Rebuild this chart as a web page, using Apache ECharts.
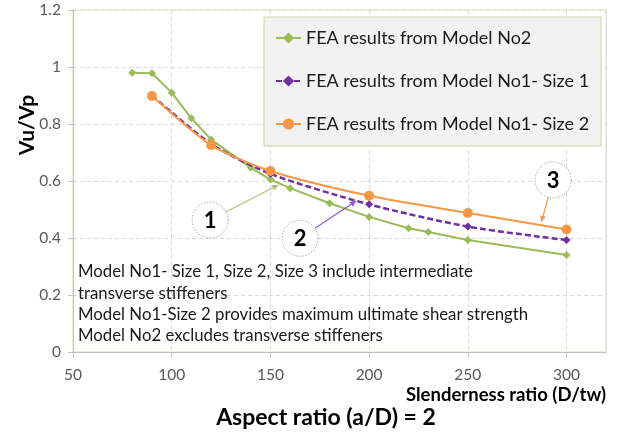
<!DOCTYPE html>
<html><head><meta charset="utf-8">
<script src="https://cdn.jsdelivr.net/npm/echarts@6/dist/echarts.min.js"></script>
<style>html,body{margin:0;padding:0;background:#fff}#chart{width:618px;height:433px}</style>
</head><body><div id="chart"></div>
<script>
// Slenderness ratio (D/tw) vs normalised shear capacity Vu/Vp
const slenderNo2 = [80, 90, 100, 110, 120, 140, 150, 160, 180, 200, 220, 230, 250, 300];
const ratioNo2 = [0.98, 0.978, 0.91, 0.82, 0.745, 0.647, 0.605, 0.575, 0.522, 0.474, 0.434, 0.421, 0.393, 0.34];
const slenderNo1 = [90, 120, 150, 200, 250, 300];
const ratioSize1 = [0.9, 0.73, 0.625, 0.518, 0.44, 0.393];
const ratioSize2 = [0.898, 0.726, 0.635, 0.548, 0.488, 0.43];
const xRange = [50, 320, 50];
const yRange = [0, 1.2, 0.2];
const seriesNames = ['FEA results from Model No2', 'FEA results from Model No1- Size 1', 'FEA results from Model No1- Size 2'];
const notes = [
  'Model No1- Size 1, Size 2, Size 3 include intermediate',
  'transverse stiffeners',
  'Model No1-Size 2 provides maximum ultimate shear strength',
  'Model No2 excludes transverse stiffeners'
];
// numbered callouts: circle centre and arrow tip in data units
const callouts = [
  { label: '1', at: [119.5, 0.463], tip: [154, 0.586], color: '#a9c47a' },
  { label: '2', at: [165, 0.399], tip: [193.4, 0.530], color: '#8e5cc2' },
  { label: '3', at: [293.2, 0.604], tip: [287.3, 0.457], color: '#f79646' }
];

const FONT = 'Lato, "Open Sans", sans-serif';
const zip = (xs, ys) => xs.map((x, i) => [x, ys[i]]);

const chart = echarts.init(document.getElementById('chart'), null, { renderer: 'canvas' });

chart.setOption({
  animation: false,
  textStyle: { fontFamily: FONT },
  grid: {
    left: 73, top: 10, right: 12, bottom: 81,
    show: true, borderColor: '#d8e0c0', borderWidth: 1, backgroundColor: 'transparent'
  },
  legend: {
    orient: 'vertical', left: 264, top: 17,
    padding: [12, 12, 13, 11], itemGap: 25,
    itemWidth: 25, itemHeight: 14,
    backgroundColor: '#f2f2f2', borderColor: '#c4d79b', borderWidth: 1,
    textStyle: { fontFamily: FONT, fontSize: 18, color: '#1a1a1a' },
    data: seriesNames
  },
  xAxis: {
    type: 'value', min: xRange[0], max: xRange[1], interval: xRange[2],
    name: 'Slenderness ratio (D/tw)', nameLocation: 'end', nameGap: 0,
    nameTextStyle: { fontFamily: FONT, fontSize: 18.5, fontWeight: 'bold', color: '#000', align: 'right', verticalAlign: 'top', padding: [34, 0, 0, 0] },
    axisLine: { show: true, lineStyle: { color: '#bfbfbf' } },
    axisTick: { show: true, length: 5, lineStyle: { color: '#bfbfbf' } },
    axisLabel: { fontFamily: FONT, fontSize: 15.5, color: '#595959', margin: 15, showMaxLabel: false },
    splitLine: { show: true, lineStyle: { color: '#d9d9d9', type: [4, 3] } }
  },
  yAxis: {
    type: 'value', min: yRange[0], max: yRange[1], interval: yRange[2],
    axisLine: { show: true, lineStyle: { color: '#bfbfbf' } },
    axisTick: { show: true, length: 5, lineStyle: { color: '#bfbfbf' } },
    axisLabel: { fontFamily: FONT, fontSize: 15.5, color: '#595959', margin: 12 },
    splitLine: { show: true, lineStyle: { color: '#d9d9d9', type: [4, 3] } }
  },
  series: [
    {
      name: seriesNames[0], type: 'line', data: zip(slenderNo2, ratioNo2),
      symbol: 'diamond', symbolSize: 8,
      lineStyle: { color: '#9bbb59', width: 2 }, itemStyle: { color: '#9bbb59' }, z: 3
    },
    {
      name: seriesNames[1], type: 'line', data: zip(slenderNo1, ratioSize1), smooth: 0.25,
      symbol: 'diamond', symbolSize: 8,
      lineStyle: { color: '#7030a0', width: 2.5, type: [6, 3] }, itemStyle: { color: '#7030a0' }, z: 4
    },
    {
      name: seriesNames[2], type: 'line', data: zip(slenderNo1, ratioSize2), smooth: 0.25,
      symbol: 'circle', symbolSize: 10,
      lineStyle: { color: '#f79646', width: 2 }, itemStyle: { color: '#f79646' }, z: 5
    }
  ]
});

// overlays: chart title, rotated y-axis name, note block, numbered callouts
function drawOverlays() {
  const els = [];
  els.push({
    type: 'text', x: 326, y: 418,
    style: { text: 'Aspect ratio (a/D) = 2', fontFamily: FONT, fontSize: 23, fontWeight: 'bold', fill: '#000', align: 'center', verticalAlign: 'middle' }
  });
  els.push({
    type: 'text', x: 27, y: 125, rotation: Math.PI / 2,
    style: { text: 'Vu/Vp', fontFamily: FONT, fontSize: 21, fontWeight: 'bold', fill: '#000', align: 'center', verticalAlign: 'middle' }
  });
  els.push({
    type: 'text', x: 78, y: 261,
    style: { text: notes.join('\n'), fontFamily: FONT, fontSize: 16.8, lineHeight: 21.4, fill: '#1a1a1a', align: 'left', verticalAlign: 'top' }
  });
  const R = 18;
  callouts.forEach(c => {
    const p = chart.convertToPixel({ gridIndex: 0 }, c.at);
    const t = chart.convertToPixel({ gridIndex: 0 }, c.tip);
    const dx = t[0] - p[0], dy = t[1] - p[1];
    const len = Math.hypot(dx, dy), ux = dx / len, uy = dy / len;
    const s = [p[0] + ux * R, p[1] + uy * R];
    els.push({ type: 'line', z: 10, shape: { x1: s[0], y1: s[1], x2: t[0], y2: t[1] }, style: { stroke: c.color, lineWidth: 1.2 } });
    const ah = 6, aw = 3;
    const bx = t[0] - ux * ah, by = t[1] - uy * ah;
    els.push({ type: 'polygon', z: 10, shape: { points: [[t[0], t[1]], [bx - uy * aw, by + ux * aw], [bx + uy * aw, by - ux * aw]] }, style: { fill: c.color } });
    els.push({ type: 'circle', z: 11, shape: { cx: p[0], cy: p[1], r: R }, style: { fill: '#fff', stroke: '#a6a6a6', lineWidth: 1, lineDash: [1.5, 1.5] } });
    els.push({ type: 'text', z: 12, x: p[0], y: p[1] + 1, style: { text: c.label, fontFamily: FONT, fontSize: 22, fontWeight: 'bold', fill: '#000', align: 'center', verticalAlign: 'middle' } });
  });
  chart.setOption({ graphic: { elements: els } });
}
drawOverlays();
</script>
</body></html>
